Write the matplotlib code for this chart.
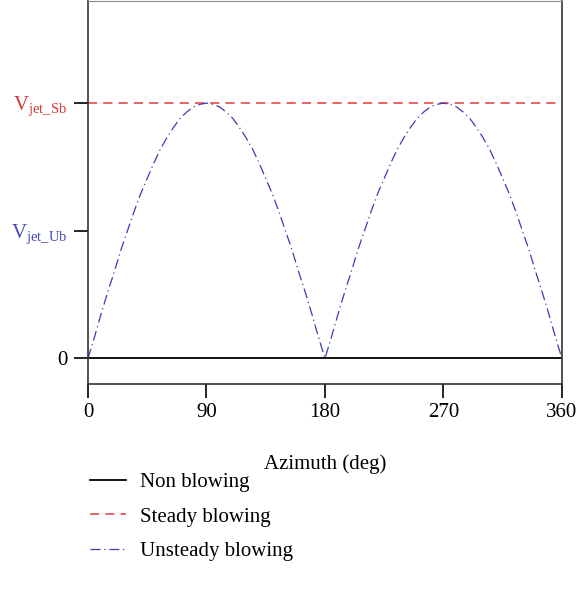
import matplotlib.pyplot as plt
import numpy as np

plt.rcParams['font.family'] = ['Liberation Serif', 'DejaVu Serif']
plt.rcParams['mathtext.fontset'] = 'custom'
plt.rcParams['mathtext.rm'] = 'Liberation Serif'

# azimuth (deg) and jet velocity (Ub = 1, Sb = 2)
azimuth = list(range(0, 365, 5))
hump = [0, 0.17, 0.35, 0.52, 0.68, 0.85, 1.0, 1.15, 1.29, 1.41, 1.53, 1.64, 1.73,
        1.81, 1.88, 1.93, 1.97, 1.99, 2.0, 1.99, 1.97, 1.93, 1.88, 1.81, 1.73,
        1.64, 1.53, 1.41, 1.29, 1.15, 1.0, 0.85, 0.68, 0.52, 0.35, 0.17, 0]
unsteady = hump + hump[1:]
non_blowing = [0, 0]
steady = [2, 2]
x_ends = [0, 360]

xticks = [0, 90, 180, 270, 360]
yticks = [0, 1, 2]
ylabels = ['0', r'V$_{\mathrm{jet\_Ub}}$', r'V$_{\mathrm{jet\_Sb}}$']
ycolors = ['black', '#4a4ab8', '#d83a3a']

fig = plt.figure(figsize=(5.78, 5.93), dpi=100)
ax = fig.add_axes([0.1522, 0.3524, 0.820, 0.646])

l1, = ax.plot(x_ends, non_blowing, color='black', lw=1.3, label='Non blowing')
l2, = ax.plot(x_ends, steady, color='#e03a3a', lw=1.1, dashes=(6, 4), label='Steady blowing')
l3, = ax.plot(azimuth, unsteady, color='#3c3cb4', lw=0.9, dashes=(8, 3, 1, 3),
              label='Unsteady blowing')

ax.set_xlim(0, 360)
ax.set_ylim(-0.2, 2.8)
ax.set_xticks(xticks)
ax.set_yticks(yticks)
ax.set_yticklabels(ylabels)
for lab, c in zip(ax.get_yticklabels(), ycolors):
    lab.set_color(c)
ax.tick_params(direction='out', length=10, width=1.2, labelsize=15, pad=5)
ax.tick_params(axis='x', pad=4)
for s in ax.spines.values():
    s.set_color('#333333')
    s.set_linewidth(1.2)
ax.spines['top'].set_linewidth(0.8)
ax.spines['top'].set_color('#888888')

ax.set_xlabel('Azimuth (deg)', fontsize=15, labelpad=23)

fig.legend(handles=[l1, l2, l3], loc='upper left', bbox_to_anchor=(0.123, 0.235),
           frameon=False, fontsize=15, handlelength=1.75, labelspacing=0.72,
           handletextpad=0.67)

fig.savefig('out.png', dpi=100)
